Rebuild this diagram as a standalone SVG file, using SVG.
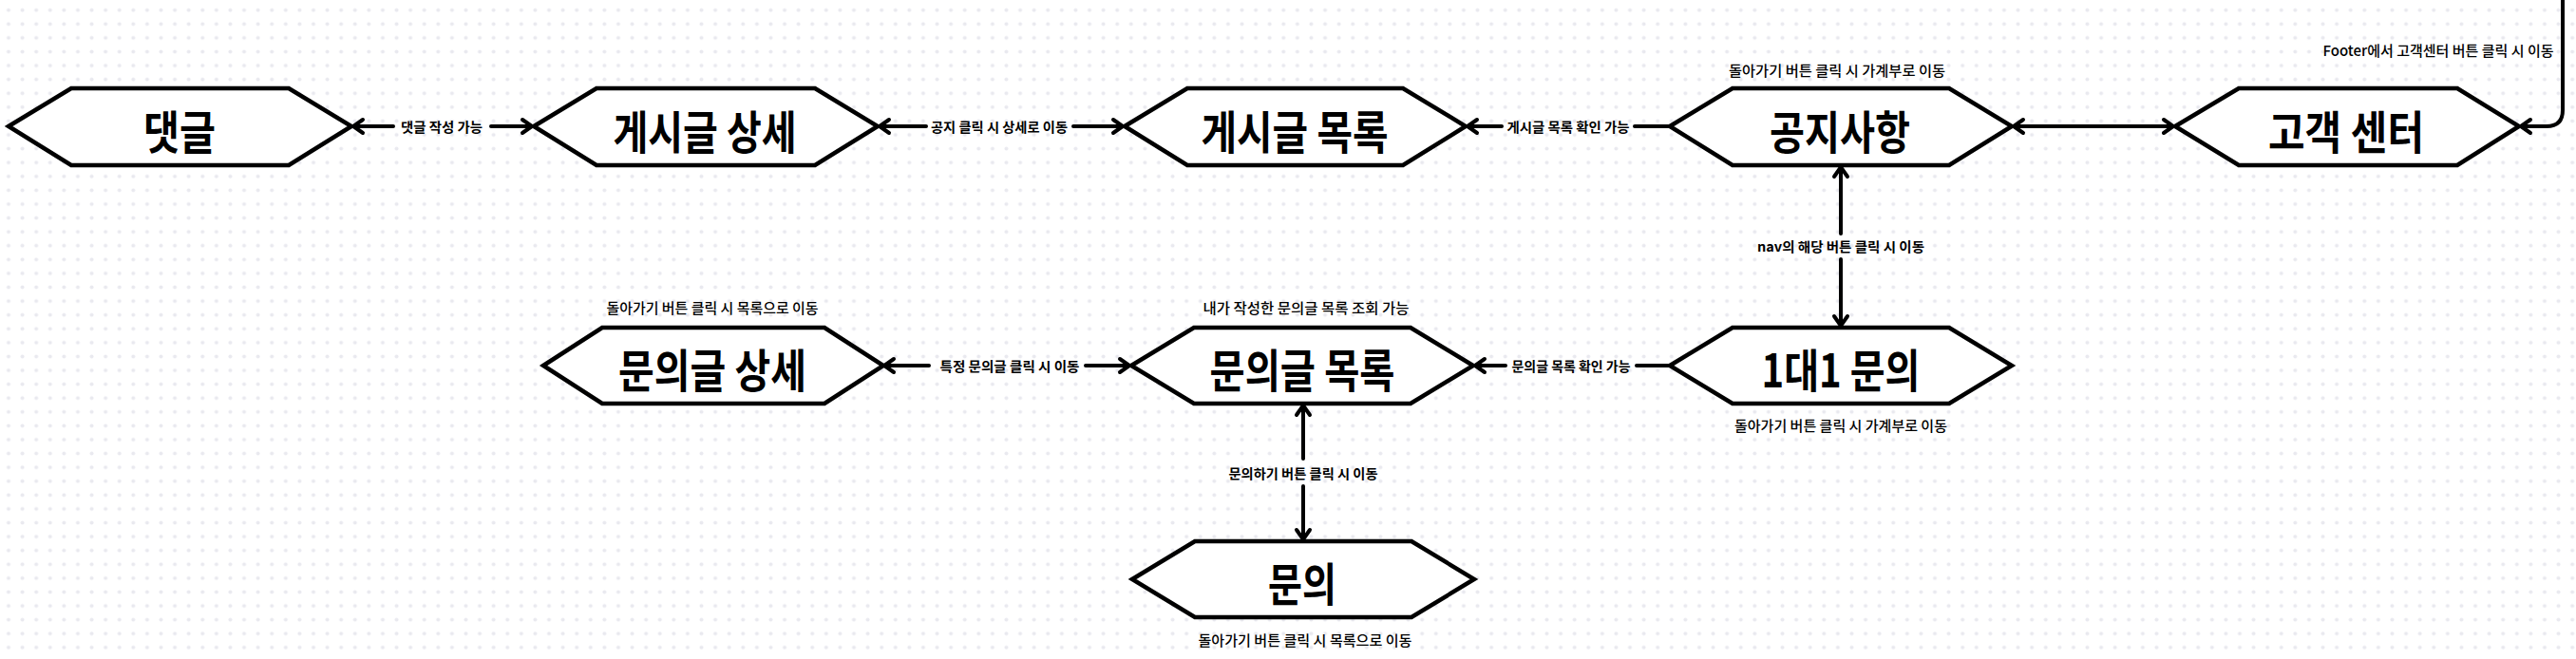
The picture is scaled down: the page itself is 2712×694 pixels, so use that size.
<svg xmlns="http://www.w3.org/2000/svg" width="2712" height="694" viewBox="0 0 2712 694">
<defs>
<pattern id="grid" x="1.7" y="3.4" width="14.59" height="14.59" patternUnits="userSpaceOnUse">
<circle cx="7.295" cy="7.295" r="2" fill="#e9e9ef"/>
</pattern>
<marker id="ah" markerUnits="userSpaceOnUse" viewBox="-14 -10 17 20" refX="0" refY="0" markerWidth="17" markerHeight="20" orient="auto-start-reverse">
<path d="M-10,-7 L0,0 L-10,7" fill="none" stroke="#000" stroke-width="4" stroke-linecap="round" stroke-linejoin="round"/>
</marker>
<style>
.node polygon{fill:#fff;stroke:#000;stroke-width:4.5;stroke-linejoin:miter}
.nt{font-family:"Noto Sans CJK KR","Noto Sans",sans-serif;font-weight:700;font-size:48px;fill:#000;text-anchor:middle;dominant-baseline:central}
.cap{font-family:"Noto Sans CJK KR","Noto Sans",sans-serif;font-weight:500;font-size:15px;fill:#000;text-anchor:middle;dominant-baseline:central}
.lbl{font-family:"Noto Sans CJK KR","Noto Sans",sans-serif;font-weight:700;font-size:14px;fill:#000;text-anchor:middle;dominant-baseline:central}
#connectors line,#connectors path{fill:none;stroke:#000;stroke-width:4;stroke-linecap:round}
</style>
</defs>
<rect width="2712" height="694" fill="#fff"/>
<rect width="2712" height="694" fill="url(#grid)"/>

<g id="connectors">
<line x1="372" y1="133" x2="414" y2="133" marker-start="url(#ah)"/>
<line x1="517" y1="133" x2="560" y2="133" marker-end="url(#ah)"/>
<line x1="926" y1="133" x2="975" y2="133" marker-start="url(#ah)"/>
<line x1="1130" y1="133" x2="1182" y2="133" marker-end="url(#ah)"/>
<line x1="1545" y1="133" x2="1581" y2="133" marker-start="url(#ah)"/>
<line x1="1721" y1="133" x2="1758" y2="133"/>
<line x1="2120" y1="133" x2="2288" y2="133" marker-start="url(#ah)" marker-end="url(#ah)"/>
<path d="M2698,-5 L2698,116 Q2698,133 2681,133 L2654,133" marker-end="url(#ah)"/>
<line x1="1938" y1="176" x2="1938" y2="246" marker-start="url(#ah)"/>
<line x1="1938" y1="273" x2="1938" y2="343" marker-end="url(#ah)"/>
<line x1="931" y1="385" x2="978" y2="385" marker-start="url(#ah)"/>
<line x1="1143" y1="385" x2="1189" y2="385" marker-end="url(#ah)"/>
<line x1="1553" y1="385" x2="1585" y2="385" marker-start="url(#ah)"/>
<line x1="1723" y1="385" x2="1758" y2="385"/>
<line x1="1372" y1="427" x2="1372" y2="483" marker-start="url(#ah)"/>
<line x1="1372" y1="512" x2="1372" y2="568" marker-end="url(#ah)"/>
<text class="lbl" x="465" y="133" textLength="86" lengthAdjust="spacingAndGlyphs">댓글 작성 가능</text>
<text class="lbl" x="1052" y="133" textLength="144" lengthAdjust="spacingAndGlyphs">공지 클릭 시 상세로 이동</text>
<text class="lbl" x="1651" y="133" textLength="129" lengthAdjust="spacingAndGlyphs">게시글 목록 확인 가능</text>
<text class="lbl" x="1938" y="259" textLength="176" lengthAdjust="spacingAndGlyphs">nav의 해당 버튼 클릭 시 이동</text>
<text class="lbl" x="1063" y="385" textLength="147" lengthAdjust="spacingAndGlyphs">특정 문의글 클릭 시 이동</text>
<text class="lbl" x="1654" y="385" textLength="125" lengthAdjust="spacingAndGlyphs">문의글 목록 확인 가능</text>
<text class="lbl" x="1372" y="498" textLength="157" lengthAdjust="spacingAndGlyphs">문의하기 버튼 클릭 시 이동</text>
<text class="cap" x="2567" y="52" textLength="243" lengthAdjust="spacingAndGlyphs">Footer에서 고객센터 버튼 클릭 시 이동</text>
</g>

<g id="node-comment" class="node">
<polygon points="9,133 75,93 304,93 370,133 304,174 75,174"/>
<text class="nt" x="189" y="136" textLength="76" lengthAdjust="spacingAndGlyphs">댓글</text>
</g>
<g id="node-post-detail" class="node">
<polygon points="562,133 628,93 858,93 924,133 858,174 628,174"/>
<text class="nt" x="742" y="136" textLength="193" lengthAdjust="spacingAndGlyphs">게시글 상세</text>
</g>
<g id="node-post-list" class="node">
<polygon points="1184,133 1250,93 1477,93 1543,133 1477,174 1250,174"/>
<text class="nt" x="1363" y="136" textLength="197" lengthAdjust="spacingAndGlyphs">게시글 목록</text>
</g>
<g id="node-notice" class="node">
<polygon points="1758,133 1824,93 2052,93 2118,133 2052,174 1824,174"/>
<text class="nt" x="1937" y="136" textLength="148" lengthAdjust="spacingAndGlyphs">공지사항</text>
<text class="cap" x="1934" y="73" textLength="228" lengthAdjust="spacingAndGlyphs">돌아가기 버튼 클릭 시 가계부로 이동</text>
</g>
<g id="node-customer-center" class="node">
<polygon points="2290,133 2357,93 2587,93 2652,133 2587,174 2357,174"/>
<text class="nt" x="2470" y="136" textLength="164" lengthAdjust="spacingAndGlyphs">고객 센터</text>
</g>
<g id="node-inquiry-detail" class="node">
<polygon points="572,385 634,345 868,345 930,385 868,425 634,425"/>
<text class="nt" x="750" y="387" textLength="198" lengthAdjust="spacingAndGlyphs">문의글 상세</text>
<text class="cap" x="750" y="323" textLength="223" lengthAdjust="spacingAndGlyphs">돌아가기 버튼 클릭 시 목록으로 이동</text>
</g>
<g id="node-inquiry-list" class="node">
<polygon points="1191,385 1257,345 1485,345 1551,385 1485,425 1257,425"/>
<text class="nt" x="1371" y="387" textLength="195" lengthAdjust="spacingAndGlyphs">문의글 목록</text>
<text class="cap" x="1375" y="323" textLength="217" lengthAdjust="spacingAndGlyphs">내가 작성한 문의글 목록 조회 가능</text>
</g>
<g id="node-one-on-one" class="node">
<polygon points="1758,385 1824,345 2052,345 2118,385 2052,425 1824,425"/>
<text class="nt" x="1938" y="387" textLength="167" lengthAdjust="spacingAndGlyphs">1대1 문의</text>
<text class="cap" x="1938" y="447" textLength="224" lengthAdjust="spacingAndGlyphs">돌아가기 버튼 클릭 시 가계부로 이동</text>
</g>
<g id="node-inquiry" class="node">
<polygon points="1192,610 1258,570 1486,570 1552,610 1486,650 1258,650"/>
<text class="nt" x="1371" y="612" textLength="72" lengthAdjust="spacingAndGlyphs">문의</text>
<text class="cap" x="1374" y="673" textLength="225" lengthAdjust="spacingAndGlyphs">돌아가기 버튼 클릭 시 목록으로 이동</text>
</g>
</svg>
